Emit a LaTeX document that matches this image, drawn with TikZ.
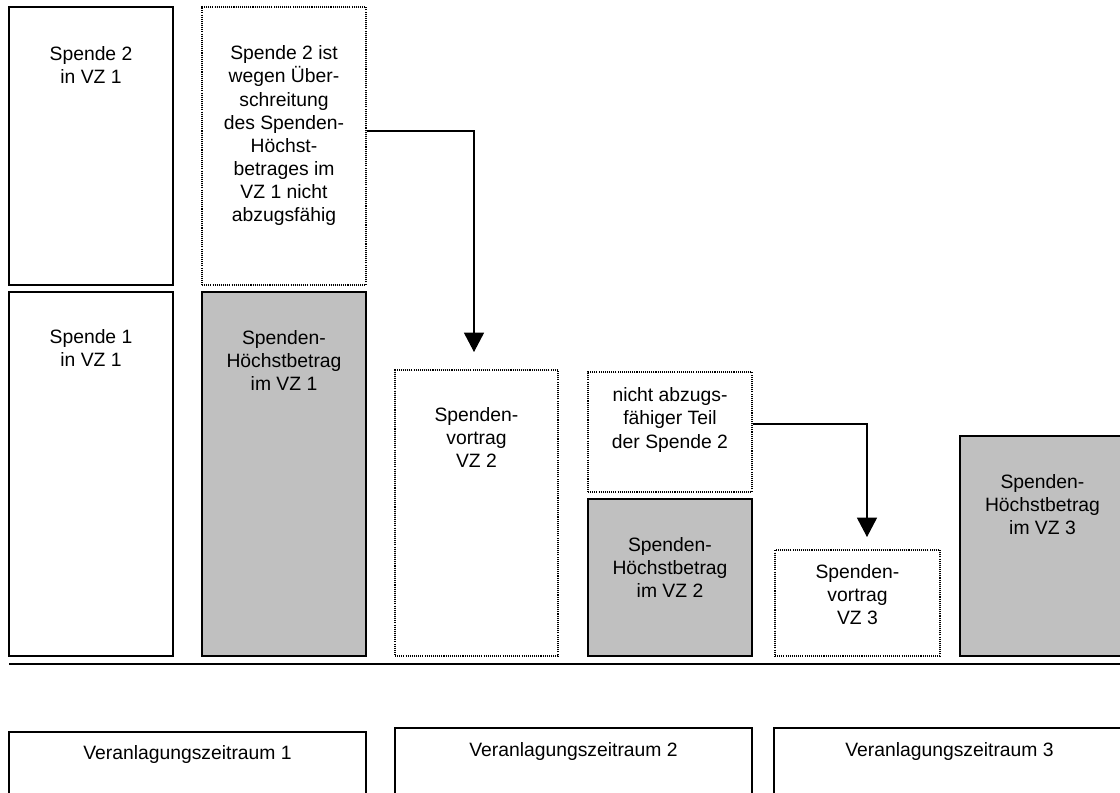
\documentclass[tikz,border=0pt]{standalone}
\usepackage{fontspec}
\setmainfont{Liberation Sans}
\usetikzlibrary{positioning,fit,arrows.meta}
\definecolor{hoechstgrau}{RGB}{192,192,192}
\tikzset{
	kasten/.style={draw=black, line width=0.8pt, inner sep=0pt},
	punktkasten/.style={draw=black, line width=1pt, dash pattern=on 0.6pt off 0.6pt, inner sep=0pt},
	grau/.style={fill=hoechstgrau},
	beschriftung/.style={inner sep=0pt, align=center, font=\fontsize{11pt}{13.1pt}\selectfont},
	pfeil/.style={line width=0.6pt, -{Triangle[width=11.4pt,length=11pt]}},
	grundlinie/.style={line width=1.2pt}
}

\begin{document}
\begin{tikzpicture}[x=0.02cm, y=-0.02cm]
			%%%%% START %%%%%
			\useasboundingbox (0,0) rectangle (1120,792);
			\clip (0,0) rectangle (1120,792);
			
			% VZ 1
			\node[kasten, fit={(9,7) (173,285)}] (spende2) {};
			\node[beschriftung, below=0.79cm of spende2.north] (spende2-txt) {Spende 2\\in VZ 1};
			\node[punktkasten, fit={(202,7) (366,285)}] (hinweis) {};
			\node[beschriftung, below=0.79cm of hinweis.north] (hinweis-txt) {Spende 2 ist\\wegen Über-\\schreitung\\des Spenden-\\Höchst-\\betrages im\\VZ 1 nicht\\abzugsfähig};
			\node[kasten, fit={(9,292) (173,656)}] (spende1) {};
			\node[beschriftung, below=0.76cm of spende1.north] (spende1-txt) {Spende 1\\in VZ 1};
			\node[kasten, grau, fit={(202,292) (366,656)}] (hoechst1) {};
			\node[beschriftung, below=0.78cm of hoechst1.north] (hoechst1-txt) {Spenden-\\Höchstbetrag\\im VZ 1};
			
			% VZ 2
			\node[punktkasten, fit={(395,370) (558,656)}] (vortrag2) {};
			\node[beschriftung, below=0.76cm of vortrag2.north] (vortrag2-txt) {Spenden-\\vortrag\\VZ 2};
			\node[punktkasten, fit={(588,372) (752,492)}] (rest2) {};
			\node[beschriftung, below=0.33cm of rest2.north] (rest2-txt) {nicht abzugs-\\fähiger Teil\\der Spende 2};
			\node[kasten, grau, fit={(588,499) (752,656)}] (hoechst2) {};
			\node[beschriftung, below=0.78cm of hoechst2.north] (hoechst2-txt) {Spenden-\\Höchstbetrag\\im VZ 2};
			
			% VZ 3
			\node[punktkasten, fit={(775,550) (940,656)}] (vortrag3) {};
			\node[beschriftung, below=0.30cm of vortrag3.north] (vortrag3-txt) {Spenden-\\vortrag\\VZ 3};
			\node[kasten, grau, fit={(960,436) (1125,656)}] (hoechst3) {};
			\node[beschriftung, below=0.78cm of hoechst3.north] (hoechst3-txt) {Spenden-\\Höchstbetrag\\im VZ 3};
			
			\draw[grundlinie] (9,664) -- (1125,664);
			
			% Pfeile
			\coordinate (spitze2) at (474,352);
			\coordinate (spitze3) at (867,537);
			\draw[pfeil] (hinweis.east |- 0,131) -| (spitze2);
			\draw[pfeil] (rest2.east |- 0,424) -| (spitze3);
			
			% Zeitraeume
			\node[kasten, fit={(9,732) (366,800)}] (vz1) {};
			\node[beschriftung, below=0.28cm of vz1.north] (vz1-txt) {Veranlagungszeitraum 1};
			\node[kasten, fit={(395,728) (752,800)}] (vz2) {};
			\node[beschriftung, below=0.29cm of vz2.north] (vz2-txt) {Veranlagungszeitraum 2};
			\node[kasten, fit={(774,728) (1125,800)}] (vz3) {};
			\node[beschriftung, below=0.29cm of vz3.north] (vz3-txt) {Veranlagungszeitraum 3};
			
			%%%%% END %%%%%
\end{tikzpicture}
\end{document}
